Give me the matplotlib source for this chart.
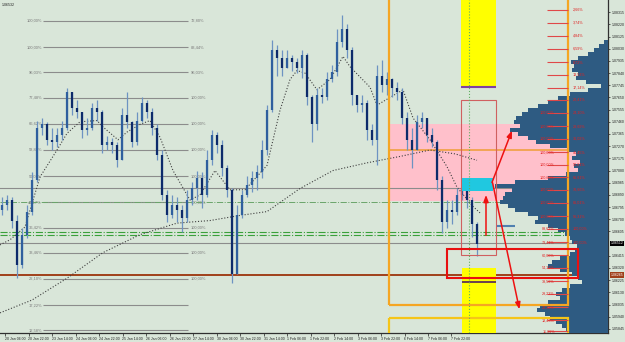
import numpy as np
import matplotlib
matplotlib.use("Agg")
import matplotlib.pyplot as plt
from matplotlib.patches import Rectangle
import matplotlib.transforms as mtransforms

plt.rcParams['font.family'] = ['Liberation Sans', 'DejaVu Sans']

# ---------------- data ----------------
first_open = 1.0677
closes = [1.0681,1.0685,1.0669,1.0634,1.0658,1.0676,1.0701,1.0741,1.0744,1.0732,
          1.0730,1.0736,1.0741,1.0769,1.0757,1.0754,1.0740,1.0741,1.0757,1.0754,
          1.0728,1.0730,1.0728,1.0716,1.0751,1.0746,1.0730,1.0747,1.0761,1.0754,
          1.0741,1.0720,1.0689,1.0673,1.0681,1.0677,1.0671,1.0685,1.0694,1.0702,
          1.0689,1.0716,1.0736,1.0728,1.0710,1.0693,1.0627,1.0673,1.0689,1.0697,
          1.0702,1.0707,1.0724,1.0755,1.0802,1.0796,1.0788,1.0796,1.0793,1.0788,
          1.0798,1.0765,1.0744,1.0767,1.0765,1.0779,1.0785,1.0808,1.0818,1.0802,
          1.0767,1.0759,1.0761,1.0740,1.0732,1.0782,1.0775,1.0779,1.0772,1.0769,
          1.0749,1.0732,1.0724,1.0746,1.0749,1.0736,1.0730,1.0701,1.0668,1.0677,
          1.0676,1.0689,1.0694,1.0685,1.0666,1.0651]
highs = [1.0687,1.0689,1.0687,1.0673,1.0663,1.0681,1.0707,1.0747,1.0749,1.0746,
         1.0741,1.0741,1.0747,1.0772,1.0767,1.0763,1.0754,1.0749,1.0761,1.0763,
         1.0755,1.0735,1.0733,1.0730,1.0757,1.0769,1.0747,1.0754,1.0765,1.0763,
         1.0757,1.0744,1.0724,1.0693,1.0689,1.0687,1.0681,1.0693,1.0699,1.0708,
         1.0707,1.0724,1.0740,1.0738,1.0732,1.0712,1.0694,1.0681,1.0693,1.0704,
         1.0708,1.0712,1.0732,1.0759,1.0810,1.0806,1.0802,1.0802,1.0798,1.0796,
         1.0802,1.0800,1.0767,1.0772,1.0772,1.0785,1.0790,1.0818,1.0829,1.0822,
         1.0804,1.0767,1.0767,1.0763,1.0744,1.0790,1.0794,1.0785,1.0780,1.0777,
         1.0772,1.0754,1.0741,1.0751,1.0754,1.0749,1.0741,1.0732,1.0704,1.0685,
         1.0685,1.0694,1.0698,1.0697,1.0687,1.0668]
lows = [1.0673,1.0677,1.0663,1.0624,1.0632,1.0655,1.0673,1.0699,1.0736,1.0728,
        1.0724,1.0726,1.0732,1.0740,1.0751,1.0749,1.0733,1.0736,1.0740,1.0747,
        1.0722,1.0724,1.0722,1.0711,1.0716,1.0741,1.0726,1.0728,1.0746,1.0749,
        1.0736,1.0716,1.0685,1.0668,1.0671,1.0668,1.0660,1.0668,1.0681,1.0685,
        1.0679,1.0687,1.0712,1.0722,1.0704,1.0687,1.0620,1.0630,1.0671,1.0687,
        1.0691,1.0693,1.0702,1.0720,1.0754,1.0782,1.0782,1.0788,1.0786,1.0784,
        1.0780,1.0759,1.0730,1.0740,1.0761,1.0763,1.0777,1.0782,1.0804,1.0796,
        1.0759,1.0754,1.0754,1.0732,1.0728,1.0712,1.0769,1.0767,1.0765,1.0763,
        1.0744,1.0724,1.0710,1.0724,1.0741,1.0730,1.0726,1.0693,1.0659,1.0663,
        1.0666,1.0673,1.0685,1.0679,1.0656,1.0641]

ma_fast_bar = [-0.4,1.6,4.6,7.6,11,13,15.6,19,20.2,23.2,25,27.6,29.6,31.6,34.2,37.6,39.6,
               42.6,45.6,48.6,53,55.6,57.6,59,60.6,63,65.6,68.2,69.6,73.6,75,77.6,80.2,
               82.2,85.6,89,91,94.2,95.6]
ma_fast_val = [1.0650,1.0654,1.0664,1.0703,1.0724,1.0737,1.0746,1.0747,1.0742,1.0732,1.0738,
               1.0744,1.0747,1.0734,1.0708,1.0685,1.0689,1.0708,1.0693,1.0693,1.0712,1.0755,
               1.0779,1.0786,1.0784,1.0771,1.0779,1.0797,1.0789,1.0773,1.0759,1.0765,1.0771,
               1.0749,1.0732,1.0711,1.0695,1.0680,1.0675]
ma_slow_bar = [-0.4,6,13,20.2,27.6,35,41.6,47.6,53,59.6,66.2,73,79.6,85.6,90.6,95]
ma_slow_val = [1.0597,1.0607,1.0624,1.0644,1.0658,1.0667,1.0669,1.0673,1.0676,1.0694,
               1.0708,1.0714,1.0719,1.0724,1.0721,1.0716]

profile_vol = [0,4,9,14,20,30,37,34,36,30,32,22,7,20,38,50,60,70,80,86,92,94,88,98,90,
               80,72,58,40,32,36,28,34,30,42,60,93,113,96,103,105,108,100,93,80,70,73,
               60,50,43,38,36,31,33,38,48,56,60,48,36,30,26,38,46,52,48,60,68,71,63,58,
               52,46,42,40]
profile_top = 1.08114
profile_step = 0.000312

fib_left_levels = [1.08246,1.08043,1.07848,1.07646,1.07443,1.07240,1.07037,1.06834,
                   1.06632,1.06437,1.06234,1.06031,1.05836]
fib_left_lab_l = ["100,00%","100,00%","96,03%","77,48%","66,62%","58,84%","50,00%",
                  "44,17%","36,42%","33,46%","22,10%","17,22%","12,58%"]
fib_left_lab_r = ["72,80%","83,44%","96,03%","100,00%","100,00%","100,00%","100,00%",
                  "100,00%","100,00%","100,00%","100,00%","",""]

fib_red_levels = [1.08332,1.08231,1.08129,1.08028,1.07926,1.07825,1.07724,1.07630,1.07529,
                  1.07427,1.07326,1.07224,1.07123,1.07029,1.06928,1.06827,1.06725,1.06624,
                  1.06522,1.06421,1.06320,1.06218,1.06117,1.06015,1.05914,1.05825]
fib_red_lab_r = ["2,66%","3,74%","4,84%","6,59%","8,72%","13,53%","17,14%","20,41%","24,10%",
                 "28,69%","36,02%","45,45%","56,81%","66,61%","76,66%","86,01%","96,31%",
                 "100,00%","100,00%","","","","","","",""]
fib_red_lab_l = ["","","","","","","","","100,00%","100,00%","100,00%","100,00%","100,00%",
                 "100,00%","100,00%","100,00%","100,00%","89,67%","73,41%","60,00%","54,33%",
                 "39,56%","29,23%","22,22%","18,46%","11,36%"]

price_ticks = [1.08315,1.08220,1.08125,1.08030,1.07935,1.07840,1.07745,1.07650,1.07555,
               1.07460,1.07365,1.07270,1.07175,1.07080,1.06985,1.06890,1.06795,1.06700,
               1.06605,1.06415,1.06320,1.06225,1.06130,1.06035,1.05940,1.05845]
time_labels = ["20 Jan 06:00","20 Jan 22:00","23 Jan 14:00","24 Jan 06:00","24 Jan 22:00",
               "25 Jan 14:00","26 Jan 06:00","26 Jan 22:00","27 Jan 14:00","30 Jan 06:00",
               "30 Jan 22:00","31 Jan 14:00","1 Feb 06:00","1 Feb 22:00","2 Feb 14:00",
               "3 Feb 06:00","3 Feb 22:00","6 Feb 14:00","7 Feb 06:00","7 Feb 22:00"]

current_price = 1.06512
brown_level = 1.06265
green_levels = [1.06600, 1.06581]
green_mid_level = 1.06838
grey_level = 1.06944
orange_level = 1.07240

# ---------------- figure ----------------
BG = '#d9e6d9'
fig = plt.figure(figsize=(6.25, 3.42), dpi=100, facecolor=BG)
ax = fig.add_axes([0, 9/342, 608/625, 333/342], facecolor=BG)
XMIN, XMAX = -0.4, 121.2
ax.set_xlim(XMIN, XMAX)
ax.set_ylim(1.05813, 1.0841)

n = len(closes)
xs = np.arange(n)
opens = [first_open] + closes[:-1]

# pink zone
ax.add_patch(Rectangle((77.4, 1.06842), 38.2, 0.00601, fc='#ffc0cb', ec='none', zorder=1))

# left fibonacci
ax.hlines(fib_left_levels, 8.2, 37.2, color='#8c8c8c', lw=0.8, zorder=2)
for lv, ll, lr in zip(fib_left_levels, fib_left_lab_l, fib_left_lab_r):
    ax.text(8.0, lv, ll, fontsize=2.9, color='#7a7a7a', ha='right', va='center', zorder=2)
    if lr:
        ax.text(37.8, lv, lr, fontsize=2.9, color='#7a7a7a', ha='left', va='center', zorder=2)

# full-width lines
ax.axhline(grey_level, color='#8c8c8c', lw=0.8, zorder=2)
ax.axhline(current_price, color='#8c8c8c', lw=0.8, zorder=2)
for g in green_levels:
    ax.axhline(g, color='#3aa03a', lw=0.8, ls='-.', zorder=2)
ax.hlines(green_mid_level, XMIN, 107.6, color='#6aa46a', lw=0.7, ls='-.', zorder=2)
ax.axhline(brown_level, color='#a0401a', lw=1.4, zorder=2)
ax.hlines(orange_level, 77.4, 115.6, color='#f0a040', lw=1.2, zorder=2)

# volume profile
vol = np.array(profile_vol, dtype=float)
levels = profile_top - profile_step * np.arange(len(vol))
w = vol * 0.2
ax.barh(levels, w, left=XMAX - w, height=profile_step, color='#2e5b82', edgecolor='none', zorder=3)

# moving averages
ax.plot(ma_slow_bar, ma_slow_val, color='#404040', ls=':', lw=0.8, zorder=4)
ax.plot(ma_fast_bar, ma_fast_val, color='#404040', ls=':', lw=0.8, zorder=4)

# price bars
lo = np.minimum(np.minimum(lows, opens), closes)
hi = np.maximum(np.maximum(highs, opens), closes)
ax.vlines(xs, lo, hi, color='#6d93c2', lw=0.9, zorder=4)
bull = np.array(closes) >= np.array(opens)
bcol = np.where(bull, '#2f5f9e', '#0d2b6b')
ax.vlines(xs, np.minimum(opens, closes), np.maximum(opens, closes), colors=bcol, lw=1.6, zorder=4)

# yellow columns
ax.add_patch(Rectangle((91.8, 1.07724), 7.0, 0.01, fc='#ffff00', ec='none', zorder=5))
ax.hlines(1.07731, 91.8, 98.8, color='#8040a0', lw=1.5, zorder=5)
ax.add_patch(Rectangle((92.0, 1.0570), 6.8, 1.0632 - 1.0570, fc='#ffff00', ec='none', zorder=5))
ax.hlines(1.0621, 92.0, 98.8, color='#502060', lw=1.2, zorder=5)
ax.axvline(93.4, color='#60b060', ls=':', lw=0.8, zorder=6)

# boxes
ax.add_patch(Rectangle((77.4, 1.06031), 35.8, 0.03, fill=False, ec='#f5a623', lw=1.6, zorder=5))
ax.add_patch(Rectangle((77.4, 1.0593), 35.8, -0.01, fill=False, ec='#f5c518', lw=1.6, zorder=5))
ax.add_patch(Rectangle((91.8, 1.0642), 7.0, 1.0763 - 1.0642, fill=False, ec='#d06060', lw=0.8, zorder=5))
ax.add_patch(Rectangle((92.0, 1.0692), 6.2, 0.0010, fc='#20c8e0', ec='none', zorder=5))
ax.hlines(1.06647, 99.0, 102.6, color='#5080b0', lw=1.5, zorder=5)

# red fibonacci labels
ax.hlines(fib_red_levels, 109.0, 113.2, color='#e04848', lw=0.8, zorder=6)
for lv, ll, lr in zip(fib_red_levels, fib_red_lab_l, fib_red_lab_r):
    if ll:
        ax.text(110.6, lv, ll, fontsize=2.7, color='#e02020', ha='right', va='center', zorder=6)
    if lr:
        ax.text(114.2, lv, lr, fontsize=2.7, color='#e02020', ha='left', va='center', zorder=6)

ax.add_patch(Rectangle((89.0, 1.06242), 26.2, 0.00226, fill=False, ec='#e81010', lw=1.5, zorder=7))

# arrows
arr = dict(arrowstyle='-|>,head_width=0.15,head_length=0.4', color='#ee1111', lw=1.1)
ax.annotate('', xy=(96.8, 1.06912), xytext=(96.8, 1.06554), arrowprops=arr, zorder=8)
ax.annotate('', xy=(102.2, 1.07412), xytext=(97.8, 1.06967), arrowprops=arr, zorder=8)
ax.annotate('', xy=(103.6, 1.05976), xytext=(98.0, 1.07006), arrowprops=arr, zorder=8)

# axes styling
for s in ['top', 'left']:
    ax.spines[s].set_visible(False)
for s in ['bottom', 'right']:
    ax.spines[s].set_color('#303030')
    ax.spines[s].set_linewidth(0.9)
ax.yaxis.tick_right()
ax.set_yticks(price_ticks)
ax.set_yticklabels([f"{p:.5f}" for p in price_ticks])
ax.tick_params(axis='y', labelsize=2.5, length=1.5, width=0.5, pad=1.5, colors='#202020')
ax.set_xticks([0.6 + 4.7 * k for k in range(len(time_labels))])
ax.set_xticklabels(time_labels)
ax.tick_params(axis='x', labelsize=2.5, length=2, width=0.5, pad=0.8, colors='#202020')
for lab in ax.get_xticklabels():
    lab.set_ha('left')

tr = mtransforms.blended_transform_factory(ax.transAxes, ax.transData)
ax.text(1.004, current_price, f"{current_price:.5f}", transform=tr, fontsize=2.5, color='white',
        ha='left', va='center', clip_on=False, zorder=10,
        bbox=dict(boxstyle='square,pad=0.25', fc='black', ec='none'))
ax.text(1.004, brown_level, f"{brown_level:.5f}", transform=tr, fontsize=2.5, color='white',
        ha='left', va='center', clip_on=False, zorder=10,
        bbox=dict(boxstyle='square,pad=0.25', fc='#a0401a', ec='none'))

ax.text(0.003, 0.992, "1.06532", transform=ax.transAxes, fontsize=2.6, color='#202020',
        ha='left', va='top')

fig.savefig('out.png', dpi=100, facecolor=BG)
